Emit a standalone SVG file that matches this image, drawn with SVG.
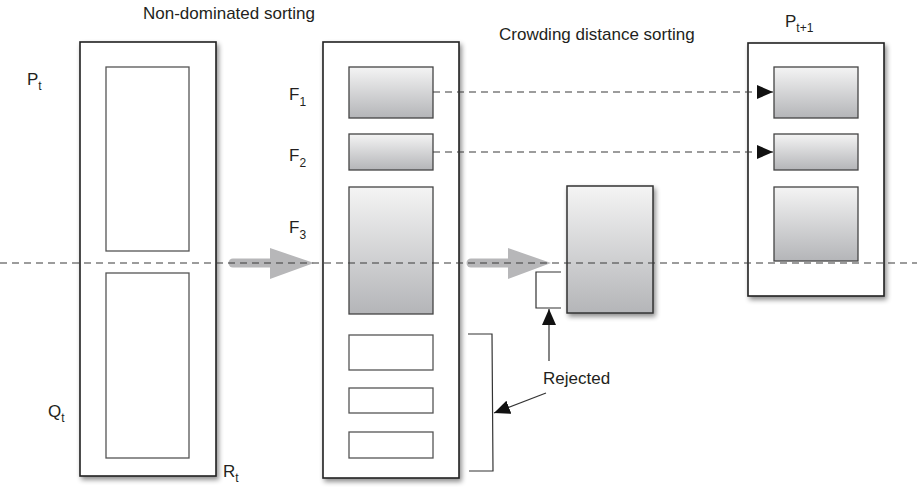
<svg xmlns="http://www.w3.org/2000/svg" width="917" height="490" viewBox="0 0 917 490">
  <defs>
    <linearGradient id="fill-grad" x1="0" y1="0" x2="0" y2="1">
      <stop offset="0" stop-color="#f4f4f4"/>
      <stop offset="1" stop-color="#b4b5b8"/>
    </linearGradient>
    <filter id="shadow" x="-20%" y="-10%" width="140%" height="120%">
      <feGaussianBlur in="SourceAlpha" stdDeviation="2.5"/>
      <feOffset dx="2" dy="3" result="b"/>
      <feComponentTransfer><feFuncA type="linear" slope="0.45"/></feComponentTransfer>
      <feMerge><feMergeNode/><feMergeNode in="SourceGraphic"/></feMerge>
    </filter>
    <marker id="tri-big" viewBox="0 0 16 14" refX="16" refY="7" markerWidth="16" markerHeight="14" markerUnits="userSpaceOnUse" orient="auto">
      <path d="M0,0 L16,7 L0,14 z" fill="#111"/>
    </marker>
  </defs>
  <style>
    .outer { fill: #fff; stroke: #222; stroke-width: 1.6; filter: url(#shadow); }
    .inner { fill: #fff; stroke: #555; stroke-width: 1.3; }
    .grad { fill: url(#fill-grad); stroke: #444; stroke-width: 1.3; }
    .gradbox { fill: url(#fill-grad); stroke: #333; stroke-width: 1.5; filter: url(#shadow); }
    text { font-family: "Liberation Sans", Arial, sans-serif; font-size: 17px; fill: #231f20; }
    .sub { font-size: 12px; }
    .dash { stroke: #3a3a3a; stroke-width: 1.1; stroke-dasharray: 7 5; fill: none; }
    .line { stroke: #333; stroke-width: 1.2; fill: none; }
    .fat { fill: #b7b7b9; }
  </style>

  <!-- R_t: combined parent and offspring population -->
  <g id="Rt">
    <rect class="outer" x="80" y="42" width="136" height="434"/>
    <rect class="inner" x="106" y="67" width="83" height="184"/>
    <rect class="inner" x="106" y="273" width="83" height="185"/>
    <text x="27" y="85">P<tspan class="sub" dy="5">t</tspan></text>
    <text x="48" y="417">Q<tspan class="sub" dy="5">t</tspan></text>
    <text x="223" y="477">R<tspan class="sub" dy="5">t</tspan></text>
  </g>

  <!-- fronts after non-dominated sorting -->
  <g id="fronts">
    <rect class="outer" x="323" y="42" width="136" height="436"/>
    <rect class="grad" x="349" y="67" width="84" height="51"/>
    <rect class="grad" x="349" y="134" width="84" height="36"/>
    <rect class="grad" x="349" y="187" width="84" height="127"/>
    <rect class="inner" x="349" y="335" width="84" height="35"/>
    <rect class="inner" x="349" y="388" width="84" height="25"/>
    <rect class="inner" x="349" y="432" width="84" height="26"/>
    <text x="289" y="100">F<tspan class="sub" dy="6">1</tspan></text>
    <text x="289" y="161">F<tspan class="sub" dy="6">2</tspan></text>
    <text x="289" y="233">F<tspan class="sub" dy="6">3</tspan></text>
  </g>

  <!-- F3 after crowding distance sorting -->
  <g id="crowding">
    <rect class="gradbox" x="567" y="186" width="86" height="127"/>
    <polyline class="line" points="561,272 536,272 536,308 561,308"/>
  </g>

  <!-- P_t+1: next population -->
  <g id="Pt1">
    <rect class="outer" x="748" y="43" width="136" height="253"/>
    <rect class="grad" x="774" y="67" width="84" height="51"/>
    <rect class="grad" x="774" y="134" width="84" height="36"/>
    <rect class="grad" x="774" y="187" width="84" height="74"/>
    <text x="785" y="27">P<tspan class="sub" dy="5">t+1</tspan></text>
  </g>

  <!-- headings -->
  <g id="labels">
    <text x="143" y="19">Non-dominated sorting</text>
    <text x="499" y="40">Crowding distance sorting</text>
    <text x="543" y="384">Rejected</text>
  </g>

  <!-- connectors -->
  <g id="connectors">
    <!-- gray process arrows -->
    <line x1="233" y1="263" x2="275" y2="263" stroke="#b7b7b9" stroke-width="9" stroke-linecap="round"/>
    <path class="fat" d="M270,248 L314,263 L270,279 z"/>
    <line x1="471" y1="263" x2="512" y2="263" stroke="#b7b7b9" stroke-width="9" stroke-linecap="round"/>
    <path class="fat" d="M508,248 L551,263 L508,279 z"/>

    <!-- cut line -->
    <line class="dash" x1="0" y1="263" x2="917" y2="263"/>

    <!-- copied fronts -->
    <line class="dash" x1="433" y1="92" x2="773" y2="92" marker-end="url(#tri-big)"/>
    <line class="dash" x1="433" y1="152" x2="773" y2="152" marker-end="url(#tri-big)"/>

    <!-- rejected -->
    <line class="line" x1="549" y1="361" x2="549" y2="309" marker-end="url(#tri-big)"/>
    <line class="line" x1="546" y1="393" x2="494" y2="413" marker-end="url(#tri-big)"/>
    <polyline class="line" points="468,334 492,334 493,471 469,471"/>
  </g>
</svg>
